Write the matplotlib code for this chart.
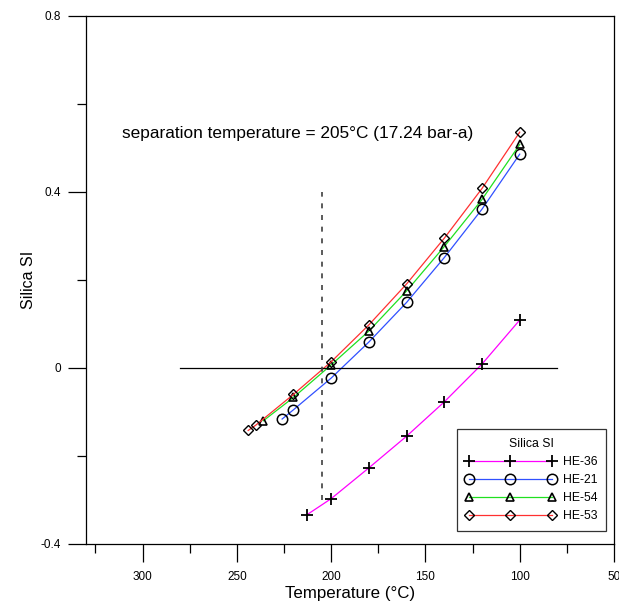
import matplotlib
matplotlib.use("Agg")
import matplotlib.pyplot as plt
from matplotlib.ticker import MultipleLocator

plt.rcParams['font.family'] = ['Liberation Sans', 'DejaVu Sans']

# Data
t_he36 = [213, 200, 180, 160, 140, 120, 100]
si_he36 = [-0.334, -0.297, -0.227, -0.155, -0.077, 0.009, 0.109]

t_he21 = [226, 220, 200, 180, 160, 140, 120, 100]
si_he21 = [-0.116, -0.095, -0.023, 0.059, 0.149, 0.251, 0.361, 0.486]

t_he54 = [236, 220, 200, 180, 160, 140, 120, 100]
si_he54 = [-0.120, -0.067, 0.007, 0.084, 0.175, 0.276, 0.383, 0.508]

t_he53 = [244, 240, 220, 200, 180, 160, 140, 120, 100]
si_he53 = [-0.142, -0.130, -0.060, 0.014, 0.098, 0.191, 0.295, 0.408, 0.536]

sep_temp = 205
zero_line_range = [280, 80]
sep_line_range = [-0.3, 0.4]

fig = plt.figure(figsize=(6.19, 6.03), dpi=100)
ax = fig.add_axes([86/619, 1-544/603, (614-86)/619, (544-16)/603])

ax.plot(t_he36, si_he36, color='#ff00ff', lw=0.9, marker='+', ms=9, mew=1.3,
        mec='black', label='HE-36')
ax.plot(t_he21, si_he21, color='#3050ff', lw=0.9, marker='o', ms=7.5, mew=1.1,
        mec='black', mfc='none', label='HE-21')
ax.plot(t_he54, si_he54, color='#20e020', lw=0.9, marker='^', ms=6, mew=1.2,
        mec='black', mfc='none', label='HE-54')
ax.plot(t_he53, si_he53, color='#ff3030', lw=0.9, marker='D', ms=5, mew=1.0,
        mec='black', mfc='none', label='HE-53')

ax.plot(zero_line_range, [0, 0], color='black', lw=0.9)
ax.plot([sep_temp, sep_temp], sep_line_range, color='#404040', lw=1.2,
        linestyle=(0, (3, 4)))

ax.text(311, 0.534, 'separation temperature = 205\u00b0C (17.24 bar-a)',
        fontsize=12.4, va='center', ha='left')

ax.set_xlim(330, 50)
ax.set_ylim(-0.4, 0.8)
ax.xaxis.set_major_locator(MultipleLocator(50))
ax.xaxis.set_minor_locator(MultipleLocator(25))
ax.yaxis.set_major_locator(MultipleLocator(0.4))
ax.yaxis.set_minor_locator(MultipleLocator(0.2))
ax.yaxis.set_major_formatter(matplotlib.ticker.FuncFormatter(lambda v, p: '0' if abs(v) < 1e-9 else f'{v:g}'))
ax.tick_params(which='major', direction='out', length=13, width=0.9, labelsize=8.5, pad=5)
ax.tick_params(which='minor', direction='out', length=6.5, width=0.9)
ax.tick_params(axis='x', which='major', pad=6.5)
for s in ax.spines.values():
    s.set_linewidth(0.9)

ax.set_xlabel('Temperature (\u00b0C)', fontsize=12.2, labelpad=2)
ax.set_ylabel('Silica SI', fontsize=11.5, labelpad=3)

leg = ax.legend(title='Silica SI', loc='lower right', bbox_to_anchor=(606/619, 1-531/603),
                bbox_transform=fig.transFigure, numpoints=3, handlelength=7.4,
                fontsize=8.8, title_fontsize=8.8, frameon=True, fancybox=False,
                edgecolor='black', borderpad=0.7, labelspacing=0.5, handletextpad=0.6,
                borderaxespad=0)
leg.get_frame().set_linewidth(0.9)

fig.savefig('out.png', dpi=100)
